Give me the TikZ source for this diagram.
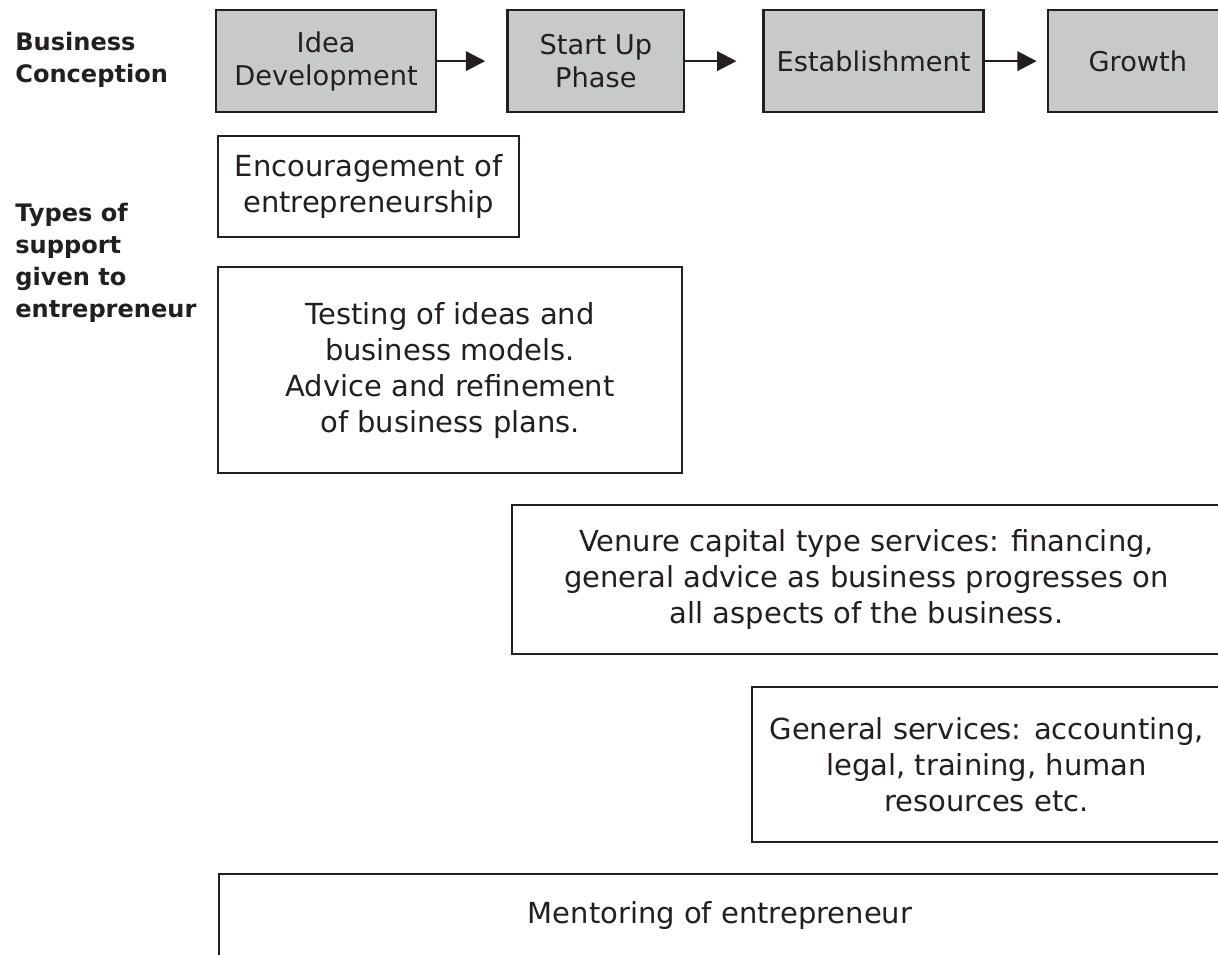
\documentclass[tikz,border=0pt]{standalone}
\usepackage{fontspec}
\setmainfont{DejaVu Sans}
\usepackage{xcolor}
\usepackage{tikz}
\usetikzlibrary{arrows.meta,positioning}

\definecolor{ink}{RGB}{35,31,32}
\definecolor{stagegray}{RGB}{200,201,203}

\begin{document}
\begin{tikzpicture}[x=0.02cm, y=-0.02cm,
			stage/.style={rectangle, draw=ink, line width=1.3pt, fill=stagegray, text=ink,
					align=center, minimum height=2.04cm, inner sep=0pt,
					font=\fontsize{15.5}{18.8}\selectfont},
			support/.style={rectangle, draw=ink, line width=1.3pt, fill=white, text=ink,
					align=center, inner sep=0pt, anchor=north west,
					font=\fontsize{16.5}{20.5}\selectfont},
			heading/.style={anchor=north west, align=left, inner sep=0pt, text=ink,
					font=\bfseries\fontsize{13.7}{18.2}\selectfont},
			arrow/.style={-{Triangle[length=11pt,width=11pt]}, line width=1.3pt, draw=ink}
		]
		\clip (0,0) rectangle (1218,955);

		% row headings
		\node[heading] (conception) at (15,32) {Business\\Conception};
		\node[heading] (types) at (15,203) {Types of\\support\\given to\\entrepreneur};

		% business stages
		\node[stage, anchor=north west, minimum width=4.4cm] (idea) at (215,9) {Idea\\Development};
		\node[stage, minimum width=3.54cm, right=1.38cm of idea] (startup) {Start Up\\Phase};
		\node[stage, minimum width=4.4cm, right=1.54cm of startup] (establish) {Establishment};
		\node[stage, minimum width=3.6cm, right=1.24cm of establish] (growth) {Growth};

		% support boxes
		\node[support, minimum width=6.02cm, minimum height=2.02cm] (encourage) at (217,135)
			{Encouragement of\\entrepreneurship};
		\node[support, minimum width=9.28cm, minimum height=4.12cm] (testing) at (217,266)
			{Testing of ideas and\\business models.\\Advice and refinement\\of business plans.};
		\node[support, minimum width=14.18cm, minimum height=2.98cm] (venture) at (511,504)
			{Venure capital type services: financing,\\general advice as business progresses on\\all aspects of the business.};
		\node[support, minimum width=9.38cm, minimum height=3.1cm] (general) at (751,686)
			{General services: accounting,\\legal, training, human\\resources etc.};
		\node[support, minimum width=20.04cm, text height=12pt, text depth=3cm, inner ysep=15.9pt] (mentoring) at (218,873)
			{Mentoring of entrepreneur};

		% Connections
		\draw[arrow, shorten >=0.42cm] (idea) -- (startup);
		\draw[arrow, shorten >=0.52cm] (startup) -- (establish);
		\draw[arrow, shorten >=0.2cm] (establish) -- (growth);
	\end{tikzpicture}
\end{document}
